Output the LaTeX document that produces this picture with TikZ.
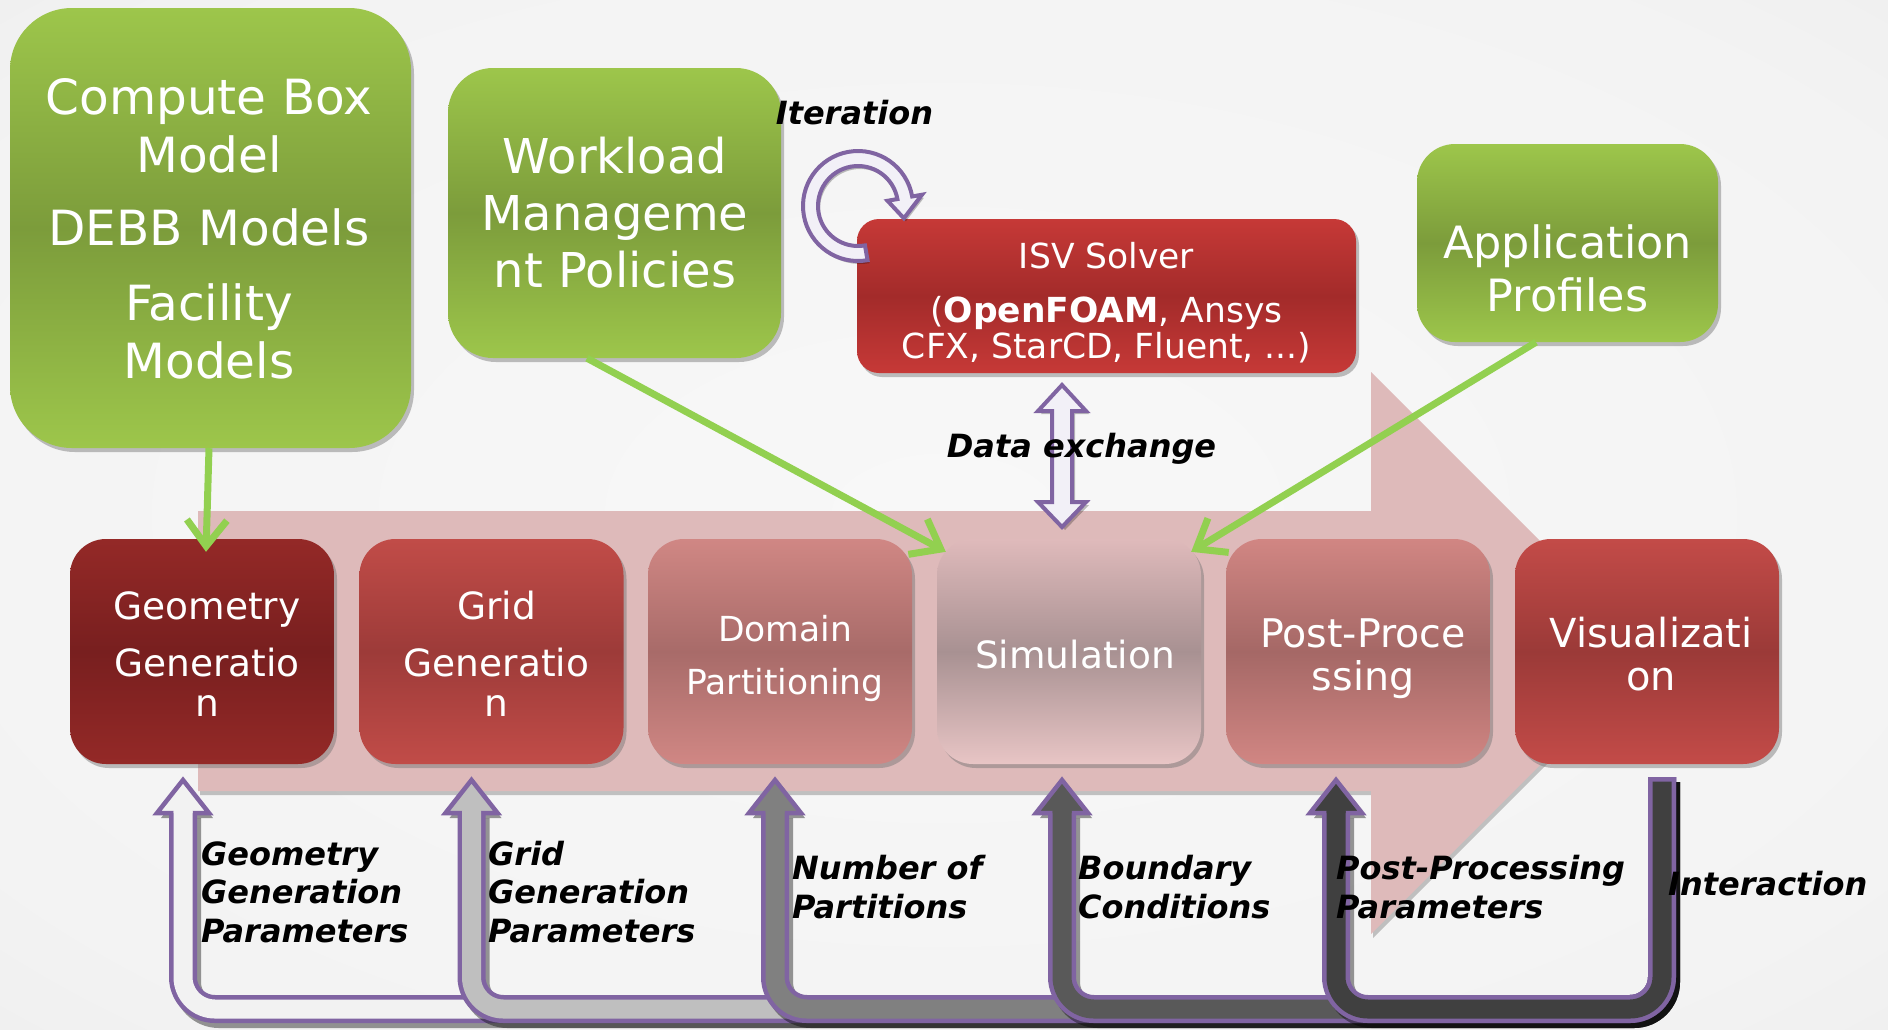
\documentclass[tikz,border=0pt]{standalone}
\usepackage{fontspec}
\setmainfont{DejaVu Sans}[BoldFont={DejaVu Sans Bold},ItalicFont={DejaVu Sans Oblique},BoldItalicFont={DejaVu Sans Bold Oblique}]
\usetikzlibrary{arrows.meta,shadows}
\definecolor{pinkarrow}{RGB}{222,186,186}
\definecolor{gtop}{RGB}{157,198,75}
\definecolor{gmid}{RGB}{124,156,59}
\definecolor{connect}{RGB}{146,208,80}
\definecolor{purp}{RGB}{128,100,162}
\definecolor{geotop}{RGB}{148,41,39}
\definecolor{geomid}{RGB}{120,31,31}
\definecolor{gridtop}{RGB}{193,76,72}
\definecolor{gridmid}{RGB}{157,59,57}
\definecolor{domtop}{RGB}{208,135,132}
\definecolor{dommid}{RGB}{168,107,105}
\definecolor{simtop}{RGB}{223,186,187}
\definecolor{simmid}{RGB}{168,145,146}
\definecolor{simbot}{RGB}{232,197,197}
\definecolor{posttop}{RGB}{209,134,131}
\definecolor{postmid}{RGB}{165,104,102}
\definecolor{vistop}{RGB}{195,75,72}
\definecolor{vismid}{RGB}{155,58,56}
\definecolor{isvtop}{RGB}{198,57,55}
\definecolor{isvmid}{RGB}{163,43,42}
\definecolor{itfill}{RGB}{242,240,247}
\definecolor{ushade}{RGB}{242,242,242}
\definecolor{ulight}{RGB}{191,191,191}
\definecolor{umid}{RGB}{128,128,128}
\definecolor{udark}{RGB}{89,89,89}
\definecolor{udarker}{RGB}{64,64,64}
\definecolor{bga}{RGB}{248,248,248}
\definecolor{bgb}{RGB}{243,243,243}
\definecolor{bgc}{RGB}{232,232,232}
\definecolor{bgd}{RGB}{222,222,222}
\pgfdeclareradialshading{bgshade}{\pgfpoint{0bp}{0bp}}{color(0bp)=(bga); color(30bp)=(bgb); color(50bp)=(bgc); color(72bp)=(bgd)}
\newcommand{\uturnarrow}[2]{%
  \begin{scope}[shift={(4,5)}]
    \draw[line width=28pt, black, opacity=0.4, rounded corners=32pt] (#1,813) -- (#1,1009) -- (1662,1009) -- (1662,777);
    \fill[black, opacity=0.4] (#1-26,813) -- (#1,780) -- (#1+26,813) -- cycle;
  \end{scope}
  \draw[line width=28pt, purp, rounded corners=32pt] (#1,813) -- (#1,1009) -- (1662,1009) -- (1662,777);
  \filldraw[fill=#2, draw=purp, line width=4.5pt, line join=miter] (#1-9.5,813) -- (#1-26,813) -- (#1,780) -- (#1+26,813) -- (#1+9.5,813);
  \draw[line width=19pt, #2, rounded corners=32pt] (#1,811) -- (#1,1009) -- (1662,1009) -- (1662,781.5);
}
\begin{document}
\begin{tikzpicture}[x=1pt, y=-1pt,
  shadowed/.style={drop shadow={shadow xshift=3pt, shadow yshift=-4pt, fill=black!55, opacity=0.45}},
  greenbox/.style={rounded corners=#1, top color=gtop, bottom color=gtop, middle color=gmid, shadowed, inner sep=0pt},
  procbox/.style n args={3}{rounded corners=36pt, minimum width=264pt, minimum height=225pt, top color=#1, bottom color=#3, middle color=#2, shadowed, inner sep=0pt},
  boxtext/.style={text=white, align=center, inner sep=0pt, anchor=base},
  lbl/.style={font=\fontsize{32}{38.5}\selectfont\bfseries\itshape, align=left, anchor=base west, inner sep=0pt},
  conn/.style={draw=connect, line width=7pt, -{Straight Barb[length=26pt, width=40pt]}},
  blockarrow/.style={fill=itfill, draw=purp, line width=4pt, line join=miter}
]
\useasboundingbox (0,0) rectangle (1888,1029);
\shade[shading=bgshade] (0,0) rectangle (1888,1029);

% big process arrow
\fill[pinkarrow, drop shadow={shadow xshift=2pt, shadow yshift=-4pt, fill=black!45, opacity=0.5}]
  (198,511) -- (1371,511) -- (1371,372) -- (1652,653) -- (1371,934) -- (1371,791) -- (198,791) -- cycle;

% top boxes
\node[greenbox=62pt, minimum width=401pt, minimum height=440pt] (cb) at (210.5,228) {};
\node[boxtext, font=\fontsize{48.5}{58}\selectfont] (cbt) at (209,378) {Compute Box\\Model\\[15pt]DEBB Models\\[17pt]Facility\\Models};

\node[greenbox=45pt, minimum width=333pt, minimum height=290pt] (wl) at (614.5,213) {};
\node[boxtext, font=\fontsize{48}{57}\selectfont] (wlt) at (615,287) {Workload\\Manageme\\nt Policies};

\node[greenbox=38pt, minimum width=301pt, minimum height=198pt] (ap) at (1567.5,243) {};
\node[boxtext, font=\fontsize{44.5}{53}\selectfont] (apt) at (1567.5,311) {Application\\Profiles};

\node[rounded corners=22pt, minimum width=499pt, minimum height=154pt, top color=isvtop, bottom color=isvtop, middle color=isvmid, shadowed, inner sep=0pt] (isv) at (1106.5,296) {};
\node[boxtext, font=\fontsize{34.5}{36}\selectfont] (isvt) at (1106.5,358) {ISV Solver\\[18pt](\textbf{OpenFOAM}, Ansys\\CFX, StarCD, Fluent, ...)};

% process boxes
\node[procbox={geotop}{geomid}{geotop}] (geo) at (202,651.5) {};
\node[procbox={gridtop}{gridmid}{gridtop}] (grid) at (491.5,651.5) {};
\node[procbox={domtop}{dommid}{domtop}] (dom) at (780,651.5) {};
\node[procbox={simtop}{simmid}{simbot}] (sim) at (1069,651.5) {};
\node[procbox={posttop}{postmid}{posttop}] (post) at (1358,651.5) {};
\node[procbox={vistop}{vismid}{vistop}] (vis) at (1647,651.5) {};

\node[boxtext, font=\fontsize{37.5}{40}\selectfont] (geot) at (207,716) {Geometry\\[17pt]Generatio\\n};
\node[boxtext, font=\fontsize{37.5}{40}\selectfont] (gridt) at (496.5,716) {Grid\\[17pt]Generatio\\n};
\node[boxtext, font=\fontsize{34.5}{53}\selectfont] (domt) at (785,694) {Domain\\Partitioning};
\node[boxtext, font=\fontsize{37.5}{40}\selectfont] (simt) at (1075,668) {Simulation};
\node[boxtext, font=\fontsize{39.5}{43}\selectfont] (postt) at (1363,690) {Post-Proce\\ssing};
\node[boxtext, font=\fontsize{40}{43}\selectfont] (vist) at (1651,690) {Visualizati\\on};

% green connectors
\draw[conn] ([xshift=-1.5pt]cb.south) -- ([xshift=4pt,yshift=-13pt]geo.north);
\draw[conn] ([xshift=-27.5pt]wl.south) -- ([xshift=9pt,yshift=-13pt]sim.north west);
\draw[conn] ([xshift=-31.5pt]ap.south) -- ([xshift=-10pt,yshift=-13pt]sim.north east);

% iteration arrow
\coordinate (itc) at (858,206);
\begin{scope}[shift={(2,3)}]
\fill[black, opacity=0.25] ([shift={(itc)}]80:55) arc[start angle=80, end angle=350, radius=55] -- ([shift={(itc)}]350:65) -- ([shift={(itc)}]15:47.5) -- ([shift={(itc)}]350:30) -- ([shift={(itc)}]350:40) arc[start angle=350, end angle=80, radius=40] -- cycle;
\end{scope}
\filldraw[blockarrow] ([shift={(itc)}]80:55) arc[start angle=80, end angle=350, radius=55] -- ([shift={(itc)}]350:65) -- ([shift={(itc)}]15:47.5) -- ([shift={(itc)}]350:30) -- ([shift={(itc)}]350:40) arc[start angle=350, end angle=80, radius=40] -- cycle;

% data exchange arrow
\fill[black, opacity=0.25] (1065,388) -- (1089,414) -- (1075,414) -- (1075,505) -- (1089,505) -- (1065,530) -- (1041,505) -- (1055,505) -- (1055,414) -- (1041,414) -- cycle;
\filldraw[blockarrow] (1062,385) -- (1086,411) -- (1072,411) -- (1072,502) -- (1086,502) -- (1062,527) -- (1038,502) -- (1052,502) -- (1052,411) -- (1038,411) -- cycle;

% feedback arrows
\uturnarrow{183}{ushade}
\uturnarrow{471.5}{ulight}
\uturnarrow{775}{umid}
\uturnarrow{1062}{udark}
\uturnarrow{1336}{udarker}

% labels
\node[lbl, anchor=base] (iter) at (854.5,124) {Iteration};
\node[lbl, anchor=base] (dex) at (1081.5,457) {Data exchange};
\node[lbl] (geop) at (201,942) {Geometry\\Generation\\Parameters};
\node[lbl] (gridp) at (488,942) {Grid\\Generation\\Parameters};
\node[lbl] (nump) at (792,918) {Number of\\Partitions};
\node[lbl] (bcp) at (1078,918) {Boundary\\Conditions};
\node[lbl] (ppp) at (1336,918) {Post-Processing\\Parameters};
\node[lbl] (inter) at (1668,895) {Interaction};
\end{tikzpicture}
\end{document}
